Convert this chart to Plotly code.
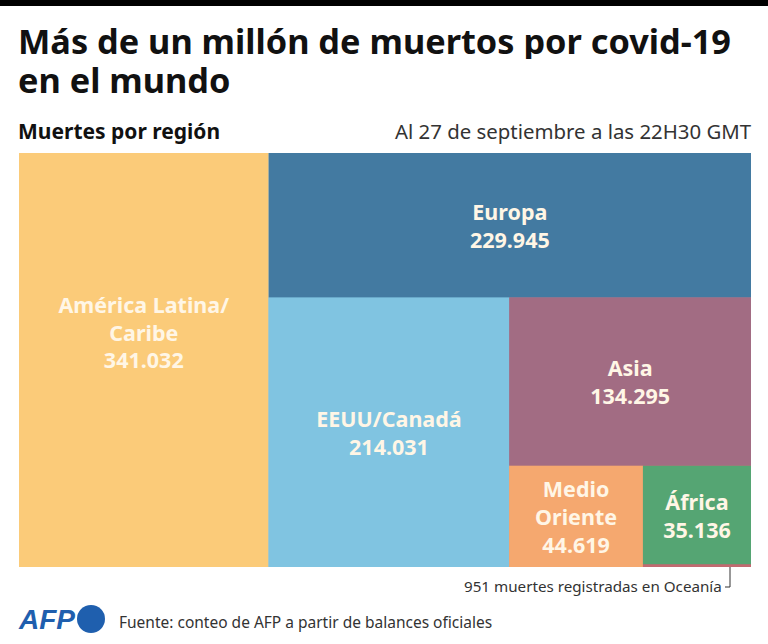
import plotly.graph_objects as go

regions = ["América Latina/Caribe", "Europa", "EEUU/Canadá", "Asia", "Medio Oriente", "Oceanía", "África"]
deaths = [341032, 229945, 214031, 134295, 44619, 951, 35136]
colors = ["#FBCB79", "#437AA1", "#80C4E1", "#A26C83", "#F5A86F", "#C26A70", "#55A573"]
captions = [
    "América Latina/<br>Caribe<br>341.032<br> <br> ",
    "Europa<br>229.945", "EEUU/Canadá<br>214.031", "Asia<br>134.295",
    "Medio<br>Oriente<br>44.619", "", "África<br>35.136",
]
# nesting used only to obtain the published arrangement of rectangles
groups = ["g1", "g2", "g3", "g4", "g5"]
group_parent = ["root", "g1", "g2", "g3", "g4"]
leaf_parent = ["root", "g1", "g2", "g3", "g4", "g5", "g5"]

def group_total(i):
    return sum(deaths[i + 1:])

ids = ["root"] + groups + regions
labels = ["", "", "", "", "", ""] + regions
parents = [""] + group_parent + leaf_parent
values = [sum(deaths)] + [group_total(i) for i in range(5)] + deaths
text = [""] * 6 + captions
cols = ["#ffffff"] + [colors[i + 1] for i in range(5)] + colors

fig = go.Figure(go.Treemap(
    ids=ids, labels=labels, parents=parents, values=values, text=text,
    branchvalues="total", sort=False,
    texttemplate="%{text}", textposition="middle center",
    textfont=dict(family="Noto Sans", size=21.5, color="#FFF6E6", weight=700),
    hoverinfo="skip",
    marker=dict(colors=cols, line=dict(width=0), pad=dict(t=0, l=0, r=0, b=0), depthfade=False),
    tiling=dict(packing="slice-dice", pad=0, flip="x+y"),
    pathbar=dict(visible=False),
    domain=dict(x=[19 / 768, 751 / 768], y=[1 - 567 / 644, 1 - 153 / 644]),
))

def note(x, y, s, size, color="#111111", weight=400, anchor="left", **kw):
    fig.add_annotation(x=x / 768, y=1 - y / 644, xref="paper", yref="paper", text=s, showarrow=False,
                       xanchor=anchor, yanchor="middle", align=anchor,
                       font=dict(family="Noto Sans", size=size, color=color, weight=weight), **kw)

note(16, 40, "Más de un millón de muertos por covid-19", 34.3, weight=700, height=38)
note(16, 79, "en el mundo", 34.3, weight=700, height=38)
note(16, 131, "Muertes por región", 21, weight=700)
note(754, 131, "Al 27 de septiembre a las 22H30 GMT", 20.4, color="#333333", anchor="right")
note(724, 586, "951 muertes registradas en Oceanía", 15.2, color="#333333", anchor="right")
note(117, 622, "Fuente: conteo de AFP a partir de balances oficiales", 15.5, color="#333333")
fig.add_annotation(x=16 / 768, y=1 - 619 / 644, xref="paper", yref="paper", text="<i>AFP</i>", showarrow=False,
                   xanchor="left", yanchor="middle",
                   font=dict(family="Liberation Sans", size=28, color="#1F5FAE", weight=700))

def px(x0, y0, x1, y1, **kw):
    return dict(xref="paper", yref="paper", x0=x0 / 768, x1=x1 / 768, y0=1 - y0 / 644, y1=1 - y1 / 644, **kw)

fig.add_shape(type="rect", line_width=0, fillcolor="#000000", **px(0, 0, 768, 6))
fig.add_shape(type="circle", line_width=0, fillcolor="#1F5FAE", **px(77, 605, 105, 633))
fig.add_shape(type="line", line=dict(color="#333333", width=1), **px(730, 567, 730, 587))
fig.add_shape(type="line", line=dict(color="#333333", width=1), **px(725, 587, 730, 587))

fig.update_layout(width=768, height=644, margin=dict(l=0, r=0, t=0, b=0),
                  paper_bgcolor="#ffffff", plot_bgcolor="#ffffff", showlegend=False)
fig.write_html("out.html", config={"displayModeBar": False},
               post_script="document.body.style.margin='0';document.body.style.overflow='hidden';")
